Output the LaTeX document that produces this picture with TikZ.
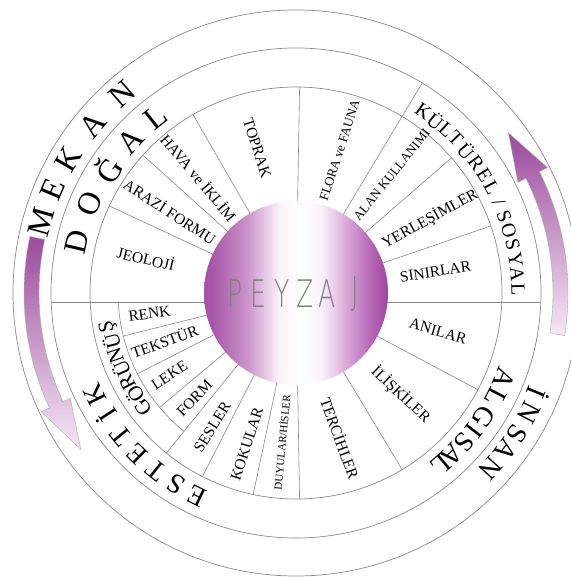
\documentclass[tikz,border=0pt]{standalone}
\usepackage{fontspec}
\setmainfont{Liberation Serif}
\newfontfamily\peyzajfont{DejaVuSans-ExtraLight.ttf}

\definecolor{wheelgray}{HTML}{8A8A8A}
\definecolor{plumdark}{HTML}{9C4A9C}
\definecolor{plumpale}{HTML}{F5E8F5}
\definecolor{plumA}{HTML}{A452A4}
\definecolor{plumB}{HTML}{A858A8}
\definecolor{plumC}{HTML}{C892C8}
\definecolor{plumD}{HTML}{E2C2E2}
\definecolor{plumE}{HTML}{FBF3FB}
\definecolor{plumF}{HTML}{EED6EE}
\definecolor{plumG}{HTML}{D7A6D7}
\definecolor{plumH}{HTML}{BA6CBA}
\definecolor{plumI}{HTML}{9C469C}

\pgfdeclarehorizontalshading{peyzajshade}{100bp}{color(0bp)=(plumA); color(25bp)=(plumA);
  color(27.5bp)=(plumB); color(36.5bp)=(plumC); color(41bp)=(plumD); color(45.5bp)=(plumE);
  color(51bp)=(white); color(56.5bp)=(plumE); color(59.5bp)=(plumF); color(64bp)=(plumG);
  color(69.5bp)=(plumH); color(75bp)=(plumI); color(100bp)=(plumI)}

\begin{document}
\begin{tikzpicture}[x=1pt,y=1pt,
    wheel/.style={draw=wheelgray, line width=0.7pt},
    divider/.style={draw=wheelgray, line width=0.6pt},
    itemtext/.style={font=\fontsize{15.5}{15.5}\selectfont, inner sep=0pt},
    smallitem/.style={font=\fontsize{13}{13}\selectfont, inner sep=0pt},
    tinyitem/.style={font=\fontsize{11}{11}\selectfont, inner sep=0pt},
    bigletter/.style={font=\fontsize{32}{32}\selectfont, inner sep=0pt},
    midletter/.style={font=\fontsize{28}{28}\selectfont, inner sep=0pt},
    subletter/.style={font=\fontsize{21}{21}\selectfont, inner sep=0pt},
    smallletter/.style={font=\fontsize{20}{20}\selectfont, inner sep=0pt},
    peyzajletter/.style={font=\peyzajfont\fontsize{38}{38}\selectfont, text=black!50, xscale=0.66, inner sep=0pt},
    flowarrow/.style={draw=wheelgray!70, line width=0.4pt}]
\useasboundingbox (0,0) rectangle (570,577);
\fill[white] (0,0) rectangle (570,577);

\begin{scope}[shift={(296,284)}]
  % dividers between the items
  \foreach \a in {155,138,120,89,41,19,-28,-59,-89,-102,-117,-129}
    \draw[divider] (\a:80) -- (\a:206);
  \foreach \a in {-140,-153,-166}
    \draw[divider] (\a:80) -- (\a:178);
  \draw[divider] (59:80) -- (59:245);
  \draw[divider] (-244.8,-9) -- (244.8,-9);
  \draw[divider] (-129:178) arc[start angle=-129, end angle=-177.1, radius=178];

  % rings
  \draw[wheel] (0,0) circle[radius=283];
  \draw[wheel] (0,0) circle[radius=245];
  \draw[wheel] (0,0) circle[radius=206];

  % centre
  \shade[shading=peyzajshade] (0,0) circle[radius=92];
  \foreach \ch/\x [count=\i] in {P/-60.5,E/-37.5,Y/-13.5,Z/9,A/31.5,J/59.5}
    \node[peyzajletter] (peyzaj\i) at (\x,-1) {\ch};

  % arrows
  \shadedraw[flowarrow, top color=plumdark, bottom color=plumpale]
    (168:272) arc[start angle=168, end angle=205, radius=272] -- (205:281) -- (216:266)
    -- (205:249) -- (205:257) arc[start angle=205, end angle=168, radius=257] -- cycle;
  \shadedraw[flowarrow, bottom color=plumpale, top color=plumdark]
    (-9:257) arc[start angle=-9, end angle=26.5, radius=257] -- (26.5:248) -- (37:266)
    -- (26.5:281) -- (26.5:272) arc[start angle=26.5, end angle=-9, radius=272] -- cycle;

  % outer ring
  \foreach \ch/\ang [count=\i] in {M/164.5,E/157,K/149.5,A/140.5,N/131}
    \node[bigletter, rotate=\ang-90] (mekan\i) at (\ang:264) {\ch};
  \foreach \ch/\ang [count=\i] in {İ/-22.5,N/-27.3,S/-32.6,A/-36.9,N/-41.9}
    \node[midletter, rotate=\ang-90] (insan\i) at (\ang:262) {\ch};

  % group ring
  \foreach \ch/\ang [count=\i] in {D/167,O/156.5,Ğ/146.8,A/137.5,L/128.5}
    \node[bigletter, rotate=\ang-90] (dogal\i) at (\ang:225) {\ch};
  \foreach \ch/\ang [count=\i] in {K/55,Ü/51,L/47.4,T/44,Ü/39.9,R/35.8,E/31.9,L/28.2}
    \node[smallletter, rotate=\ang-90] (kulturel\i) at (\ang:222) {\ch};
  \node[smallletter, rotate=24.1-90] (slash) at (24.1:222) {/};
  \foreach \ch/\ang [count=\i] in {S/20.3,O/16.4,S/12.6,Y/8.7,A/4.9,L/1}
    \node[smallletter, rotate=\ang-90] (sosyal\i) at (\ang:222) {\ch};
  \foreach \ch/\ang [count=\i] in {A/-22.2,L/-27.6,G/-33.5,I/-37.7,S/-41.6,A/-46.1,L/-50}
    \node[midletter, rotate=\ang-90] (algisal\i) at (\ang:225) {\ch};
  \foreach \ch/\ang [count=\i] in {E/-116,S/-122.2,T/-128.4,E/-134.6,T/-140.8,İ/-147,K/-153.2}
    \node[midletter, rotate=\ang-90] (estetik\i) at (\ang:226) {\ch};
  \foreach \ch/\ang [count=\i] in {G/-143.3,Ö/-147.7,R/-152.1,Ü/-156.5,N/-160.9,Ü/-165.3,Ş/-169.8}
    \node[subletter, rotate=\ang-90] (gorunus\i) at (\ang:191) {\ch};

  % items
  \node[itemtext, rotate=-13] (jeoloji) at (167:154) {JEOLOJİ};
  \node[itemtext, rotate=-33] (arazi) at (147:150) {ARAZİ FORMU};
  \node[itemtext, rotate=-50] (hava) at (130:151) {HAVA ve İKLİM};
  \node[itemtext, rotate=-72] (toprak) at (105:150) {TOPRAK};
  \node[smallitem, rotate=72] (flora) at (73:149) {FLORA ve FAUNA};
  \node[smallitem, rotate=51] (alan) at (51:152) {ALAN KULLANIMI};
  \node[itemtext, rotate=29] (yerlesim) at (29:153) {YERLEŞİMLER};
  \node[itemtext, rotate=9] (sinir) at (8.7:141) {SINIRLAR};
  \node[itemtext, rotate=-16] (anilar) at (-15:147) {ANILAR};
  \node[itemtext, rotate=-43] (iliski) at (-44:146) {İLİŞKİLER};
  \node[itemtext, rotate=-70] (tercih) at (-73:152) {TERCİHLER};
  \node[tinyitem, rotate=84.5] (duyular) at (-95.5:150) {DUYULAR/HİSLER};
  \node[itemtext, rotate=72] (koku) at (-108:159) {KOKULAR};
  \node[itemtext, rotate=58] (ses) at (-122:158) {SESLER};
  \node[itemtext, rotate=46] (form) at (-134:146) {FORM};
  \node[itemtext, rotate=33] (leke) at (-147:151) {LEKE};
  \node[itemtext, rotate=20] (tekstur) at (-160:140) {TEKSTÜR};
  \node[itemtext, rotate=8] (renk) at (-172:148) {RENK};
\end{scope}
\end{tikzpicture}
\end{document}
